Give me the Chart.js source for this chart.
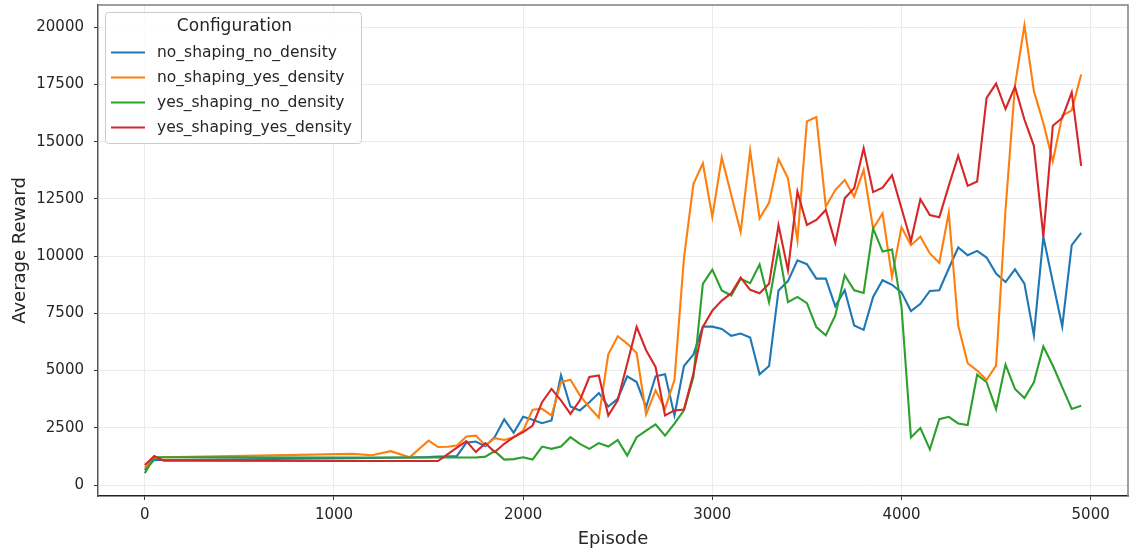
<!DOCTYPE html>
<html>
<head>
<meta charset="utf-8">
<script src="https://cdn.jsdelivr.net/npm/chart.js@4.4.1/dist/chart.umd.min.js"></script>
<style>
  html, body { margin: 0; padding: 0; background: #fff; }
  canvas { display: block; }
</style>
</head>
<body>
<canvas id="chart" width="1129" height="549"></canvas>
<script>
const episodes = [0, 50, 100, 1100, 1200, 1300, 1400, 1500, 1550, 1600, 1650, 1700, 1750, 1800, 1850, 1900, 1950,
    2000, 2050, 2100, 2150, 2200, 2250, 2300, 2350, 2400, 2450, 2500, 2550, 2600, 2650, 2700, 2750, 2800, 2850, 2900, 2950,
    3000, 3050, 3100, 3150, 3200, 3250, 3300, 3350, 3400, 3450, 3500, 3550, 3600, 3650, 3700, 3750, 3800, 3850, 3900, 3950,
    4000, 4050, 4100, 4150, 4200, 4250, 4300, 4350, 4400, 4450, 4500, 4550, 4600, 4650, 4700, 4750, 4800, 4850, 4900, 4950];

const noShapingNoDensity = [660, 1100, 1090, 1170, 1180, 1190, 1200, 1220, 1240, 1250, 1270, 1850, 1900, 1690, 2100, 2870, 2280,
    2980, 2850, 2700, 2820, 4800, 3430, 3260, 3620, 4020, 3430, 3770, 4750, 4500, 3400, 4750, 4840, 3040, 5200, 5700, 6920,
    6920, 6820, 6520, 6620, 6450, 4840, 5200, 8500, 8910, 9820, 9650, 9020, 9020, 7810, 8510, 6970, 6780, 8220, 8950, 8750,
    8420, 7600, 7920, 8480, 8510, 9460, 10380, 10040, 10230, 9940, 9240, 8870, 9420, 8800, 6540, 10850, 8870, 6930, 10480, 11020];

const noShapingYesDensity = [750, 1180, 1210, 1360, 1300, 1480, 1210, 1940, 1660, 1670, 1730, 2120, 2160, 1730, 2050, 1970, 2090,
    2380, 3290, 3330, 3040, 4500, 4600, 3920, 3400, 2940, 5710, 6500, 6180, 5770, 3080, 4140, 3330, 4600, 9900, 13150, 14060,
    11720, 14310, 12670, 11060, 14620, 11650, 12330, 14240, 13400, 10700, 15890, 16080, 12160, 12890, 13330, 12600, 13770, 11210, 11870, 9090,
    11270, 10480, 10850, 10120, 9710, 11900, 6970, 5320, 5000, 4590, 5220, 12020, 17460, 20090, 17210, 15820, 14140, 16140, 16370, 17940];

const yesShapingNoDensity = [520, 1210, 1210, 1200, 1200, 1200, 1200, 1200, 1200, 1200, 1200, 1200, 1200, 1240, 1480, 1110, 1130,
    1210, 1110, 1680, 1580, 1680, 2090, 1800, 1580, 1830, 1680, 1970, 1290, 2090, 2380, 2650, 2160, 2680, 3260, 4720, 8790,
    9410, 8500, 8280, 9010, 8820, 9640, 7990, 10330, 7990, 8220, 7950, 6900, 6540, 7410, 9170, 8510, 8390, 11210, 10200, 10290,
    7800, 2080, 2490, 1560, 2880, 2980, 2690, 2620, 4820, 4490, 3320, 5260, 4200, 3800, 4490, 6050, 5220, 4270, 3320, 3460];

const yesShapingYesDensity = [870, 1270, 1060, 1050, 1050, 1050, 1050, 1050, 1050, 1340, 1630, 1920, 1440, 1830, 1440, 1800, 2090,
    2310, 2600, 3620, 4200, 3700, 3110, 3700, 4720, 4790, 3040, 3700, 5300, 6910, 5890, 5160, 3040, 3260, 3300, 4870, 6910,
    7620, 8060, 8380, 9060, 8530, 8380, 8790, 11350, 9380, 12820, 11360, 11580, 12020, 10580, 12530, 12970, 14720, 12800, 12990, 13530,
    12090, 10660, 12490, 11800, 11700, 13070, 14390, 13070, 13260, 16920, 17540, 16430, 17400, 15970, 14820, 10850, 15700, 16040, 17160, 13950];

const configNames = ['no_shaping_no_density', 'no_shaping_yes_density', 'yes_shaping_no_density', 'yes_shaping_yes_density'];
const seriesList = [noShapingNoDensity, noShapingYesDensity, yesShapingNoDensity, yesShapingYesDensity];
const colors = ['#1f77b4', '#ff7f0e', '#2ca02c', '#d62728'];

const xTicks = [0, 1000, 2000, 3000, 4000, 5000];
const yTicks = [0, 2500, 5000, 7500, 10000, 12500, 15000, 17500, 20000];

const FONT = "'DejaVu Sans', sans-serif";

// frame: gray top/right spines
const framePlugin = {
    id: 'frame',
    afterDraw(chart) {
        const { ctx, chartArea: a } = chart;
        ctx.save();
        ctx.strokeStyle = '#808080';
        ctx.lineWidth = 1.5;
        ctx.beginPath();
        ctx.moveTo(a.left, a.top);
        ctx.lineTo(a.right, a.top);
        ctx.lineTo(a.right, a.bottom);
        ctx.stroke();
        ctx.restore();
    }
};

// legend box drawn like matplotlib's
const legendPlugin = {
    id: 'mplLegend',
    afterDraw(chart) {
        const ctx = chart.ctx;
        const x0 = 105.5, y0 = 12.5, w = 256, h = 131;
        ctx.save();
        ctx.beginPath();
        ctx.roundRect(x0, y0, w, h, 3);
        ctx.fillStyle = 'rgba(255,255,255,0.85)';
        ctx.fill();
        ctx.strokeStyle = '#cccccc';
        ctx.lineWidth = 1;
        ctx.stroke();

        ctx.fillStyle = '#262626';
        ctx.textBaseline = 'middle';
        ctx.textAlign = 'center';
        ctx.font = '17px ' + FONT;
        ctx.fillText('Configuration', 234.5, 27);

        ctx.textAlign = 'left';
        ctx.font = '15.5px ' + FONT;
        chart.data.datasets.forEach((ds, i) => {
            const y = 52.5 + i * 25;
            ctx.strokeStyle = ds.borderColor;
            ctx.lineWidth = 2;
            ctx.beginPath();
            ctx.moveTo(111, y);
            ctx.lineTo(145, y);
            ctx.stroke();
            ctx.fillStyle = '#262626';
            ctx.fillText(ds.label, 157, y + 0.5);
        });
        ctx.restore();
    }
};

new Chart(document.getElementById('chart'), {
    type: 'line',
    data: {
        datasets: seriesList.map((values, i) => ({
            label: configNames[i],
            data: values.map((v, j) => ({ x: episodes[j], y: v })),
            borderColor: colors[i],
            backgroundColor: colors[i],
            borderWidth: 2.1,
            pointRadius: 0,
            tension: 0,
            order: seriesList.length - i,
        })),
    },
    options: {
        responsive: false,
        animation: false,
        devicePixelRatio: 1,
        layout: { padding: { top: 5, right: 1, left: 0, bottom: 0 } },
        plugins: {
            legend: { display: false },
            tooltip: { enabled: false },
        },
        scales: {
            x: {
                type: 'linear',
                min: -247.5,
                max: 5197.5,
                afterBuildTicks: (scale) => { scale.ticks = xTicks.map(v => ({ value: v })); },
                afterFit: (scale) => {
                    scale.height = 53;
                    scale.paddingLeft = 0;
                    scale.paddingRight = 0;
                },
                ticks: {
                    callback: (v) => String(v),
                    color: '#262626',
                    font: { family: FONT, size: 15 },
                    padding: 6,
                    maxRotation: 0,
                    autoSkip: false,
                },
                grid: { color: '#ebebeb', lineWidth: 1, tickColor: '#333', tickLength: 4 },
                border: { color: '#222', width: 1.5 },
                title: {
                    display: true,
                    text: 'Episode',
                    color: '#262626',
                    font: { family: FONT, size: 18, lineHeight: 1.05 },
                    padding: { top: 0, bottom: 0 },
                },
            },
            y: {
                min: -480,
                max: 20975,
                afterBuildTicks: (scale) => { scale.ticks = yTicks.map(v => ({ value: v })); },
                afterFit: (scale) => {
                    scale.width = 98;
                    scale.paddingTop = 0;
                    scale.paddingBottom = 0;
                },
                ticks: {
                    callback: (v) => String(v),
                    color: '#262626',
                    font: { family: FONT, size: 15 },
                    padding: 10,
                    autoSkip: false,
                },
                grid: { color: '#ebebeb', lineWidth: 1, tickColor: '#333', tickLength: 4 },
                border: { color: '#555', width: 1.5 },
                title: {
                    display: true,
                    text: 'Average Reward',
                    color: '#262626',
                    font: { family: FONT, size: 18 },
                    padding: { top: 10, bottom: 0 },
                },
            },
        },
    },
    plugins: [framePlugin, legendPlugin],
});
</script>
</body>
</html>
